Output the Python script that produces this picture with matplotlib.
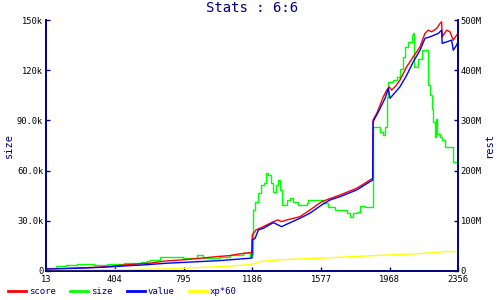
"""
Stats chart: size on the left axis, score/value/xp*60 on the right axis
"""

import matplotlib
matplotlib.use("Agg")
import matplotlib.pyplot as plt
from matplotlib.lines import Line2D

NAVY = "#000080"

X_TICKS = [13, 404, 795, 1186, 1577, 1968, 2356]
SIZE_TICKS = [0, 30, 60, 90, 120, 150]
SIZE_TICK_LABELS = ["0", "30.0k", "60.0k", "90.0k", "120k", "150k"]
REST_TICKS = [0, 100, 200, 300, 400, 500]
REST_TICK_LABELS = ["0", "100M", "200M", "300M", "400M", "500M"]

# size (k), left axis, step series
size_x = [13, 70, 127, 189, 286, 360, 457, 553, 587, 604, 661, 718, 792, 872,
          906, 1003, 1059, 1133, 1173, 1186, 1188, 1202, 1219, 1234, 1253, 1262,
          1276, 1293, 1304, 1321, 1332, 1344, 1353, 1382, 1401, 1418, 1446, 1496,
          1503, 1571, 1588, 1617, 1657, 1723, 1742, 1759, 1780, 1799, 1827, 1875,
          1912, 1931, 1941, 1951, 1960, 1986, 2007, 2026, 2041, 2055, 2073, 2093,
          2102, 2107, 2130, 2150, 2178, 2187, 2197, 2206, 2215, 2225, 2231, 2238,
          2254, 2263, 2282, 2320, 2329, 2354, 2356]
size_k = [1.8, 3.0, 3.4, 4.0, 3.6, 4.2, 4.6, 5.2, 5.8, 6.6, 8.2, 8.5, 7.8, 9.6,
          7.6, 8.5, 9.6, 10.6, 8.5, 10.2, 36.5, 41.4, 46.6, 51.4, 52.6, 58.4,
          57.4, 52.6, 47.4, 51.4, 54.4, 48.4, 39.4, 42.4, 43.4, 41.4, 39.4, 40.5,
          42.4, 42.4, 40.6, 38.4, 36.5, 34.8, 32.4, 34.7, 35.4, 38.8, 38.1, 85.9,
          83.2, 81.3, 86.2, 104, 113, 114, 116, 121, 128, 134, 137, 141,
          142, 122, 127, 132, 132, 111, 105, 97, 89, 80, 91, 82,
          80, 78, 74, 74, 65, 76, 76]

# score (M), right axis
score_x = [13, 314, 400, 466, 542, 604, 643, 699, 794, 889, 984, 1059, 1116,
           1173, 1184, 1186, 1207, 1249, 1306, 1332, 1353, 1382, 1457, 1514,
           1581, 1685, 1780, 1871, 1873, 1894, 1913, 1931, 1951, 1965, 1979,
           1998, 2026, 2064, 2102, 2140, 2168, 2187, 2206, 2235, 2254, 2263,
           2266, 2292, 2310, 2329, 2348, 2356]
score_m = [3.5, 7.4, 10, 12, 14, 15.3, 17.3, 20, 22, 25.2, 28.5, 30.5, 34,
           36.5, 37, 71.7, 81.7, 88.2, 98.2, 101.6, 98.2, 101.6, 108, 121.5,
           138, 151.4, 164.7, 184.7, 300.8, 314, 330.7, 347, 360.6, 367, 360.6,
           367, 380.5, 407, 427, 446.8, 473.5, 480, 476.7, 483.5, 493.4, 496.6,
           466.7, 480, 476.7, 460, 470, 473.5]

# value (M), right axis
value_x = [13, 201, 343, 466, 570, 699, 889, 1003, 1097, 1173, 1184, 1186,
           1202, 1221, 1249, 1306, 1353, 1382, 1457, 1514, 1581, 1628, 1685,
           1780, 1871, 1873, 1913, 1941, 1960, 1969, 2026, 2064, 2102, 2140,
           2168, 2197, 2244, 2263, 2266, 2320, 2329, 2348, 2356]
value_m = [3.4, 5.4, 7.4, 10, 12, 15.3, 18.6, 20.6, 23.2, 25.2, 26, 61.8,
           65, 81.7, 85, 96.2, 88.2, 93, 105, 115, 131.5, 141.4, 148,
           161.4, 181.3, 297.4, 324, 344, 364, 344, 367, 390, 417, 440,
           463.5, 466.7, 473.5, 480, 453.6, 460, 440, 450, 456.8]

# xp*60 (M), right axis
xp_x = [13, 286, 718, 927, 1076, 1154, 1186, 1202, 1230, 1325, 1467, 1581,
        1761, 1969, 2102, 2235, 2272, 2356]
xp_m = [0.6, 2, 4, 7.4, 10, 12, 14, 15.3, 18.6, 21.9, 23.9, 25.5,
        28.5, 31.9, 33.9, 36.5, 38.5, 38.5]

plt.rcParams['font.family'] = ['DejaVu Sans Mono']

fig, ax = plt.subplots(figsize=(5, 3), dpi=100)
fig.subplots_adjust(left=0.092, right=0.916, bottom=0.097, top=0.933)
ax2 = ax.twinx()

ax.plot(size_x, size_k, color='#00ff00', lw=1, drawstyle='steps-post')
ax2.plot(score_x, score_m, color='#ff0000', lw=1)
ax2.plot(value_x, value_m, color='#0000ff', lw=1)
ax2.plot(xp_x, xp_m, color='#ffff00', lw=1)

ax.set_xlim(X_TICKS[0], X_TICKS[-1])
ax.set_ylim(0, 150)
ax2.set_ylim(0, 500)
ax.set_xticks(X_TICKS, [str(t) for t in X_TICKS])
ax.set_yticks(SIZE_TICKS, SIZE_TICK_LABELS)
ax2.set_yticks(REST_TICKS, REST_TICK_LABELS)

for a in (ax, ax2):
    a.spines['top'].set_visible(False)
    for s in ('left', 'right', 'bottom'):
        a.spines[s].set_color(NAVY)
        a.spines[s].set_linewidth(1.2)
    a.tick_params(direction='in', length=3, width=1, color=NAVY,
                  labelsize=6.3, labelcolor='black', pad=2)
ax.tick_params(axis='x', pad=3)

ax.set_ylabel('size', color=NAVY, fontsize=7.5, labelpad=2)
ax2.set_ylabel('rest', color=NAVY, fontsize=7.5, labelpad=2)
ax.set_title('Stats : 6:6', color=NAVY, fontsize=10, pad=6)

handles = [Line2D([], [], color=c, lw=2)
           for c in ('#ff0000', '#00ff00', '#0000ff', '#ffff00')]
fig.legend(handles, ['score', 'size', 'value', 'xp*60'], loc='lower left',
           bbox_to_anchor=(0.0, -0.015), ncol=4, frameon=False, fontsize=6.5,
           labelcolor=NAVY, handlelength=2, handletextpad=0.3, columnspacing=1.6)

plt.savefig('out.png', dpi=100)
plt.close()
